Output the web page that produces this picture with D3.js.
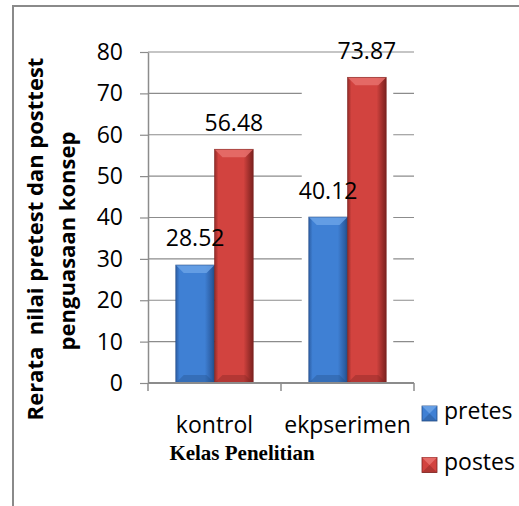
<!DOCTYPE html>
<html><head><meta charset="utf-8">
<script src="https://cdn.jsdelivr.net/npm/d3@7"></script>
<style>body{margin:0;background:#fff;} text{font-family:"Open Sans",sans-serif;fill:#000;}</style>
</head><body><svg id="c" width="519" height="506"></svg>
<script>
const categories = ["kontrol", "ekpserimen"];
const seriesNames = ["pretes", "postes"];
const pretes = [28.52, 40.12];
const postes = [56.48, 73.87];
const yTicks = [0, 10, 20, 30, 40, 50, 60, 70, 80];
const yTitle = ["Rerata  nilai pretest dan posttest", "penguasaan konsep"];
const xTitle = "Kelas Penelitian";
const seriesColors = {pretes: ["#2c5ea4", "#3f80d4", "#6aa2e6", "#234c84"], postes: ["#922a27", "#d2433f", "#e8706c", "#7c2220"]};

const svg = d3.select("#c");
const W = 519, H = 506;
const L = 148, R = 414, T = 52, B = 383;

// border (left and top)
svg.append("path").attr("d", `M13,${H} L13,6 L${W},6`).attr("fill", "none").attr("stroke", "#8a8a8a").attr("stroke-width", 2);

const x = d3.scaleBand().domain(categories).range([L, R]).padding(0);
const xs = d3.scaleBand().domain(seriesNames).range([0, x.bandwidth()]).paddingInner(0).paddingOuter(0.716);
const y = d3.scaleLinear().domain([0, 80]).range([B, T]);

const defs = svg.append("defs");
seriesNames.forEach(s => {
  const c = seriesColors[s];
  const g = defs.append("linearGradient").attr("id", "g-" + s).attr("x1", 0).attr("x2", 1).attr("y1", 0).attr("y2", 0);
  g.append("stop").attr("offset", 0).attr("stop-color", c[0]);
  g.append("stop").attr("offset", 0.1).attr("stop-color", c[1]);
  g.append("stop").attr("offset", 0.75).attr("stop-color", c[1]);
  g.append("stop").attr("offset", 0.93).attr("stop-color", c[0]);
  g.append("stop").attr("offset", 1).attr("stop-color", c[3]);
});

// gridlines
svg.append("g").selectAll("line").data(yTicks.filter(d => d > 0)).join("line")
  .attr("x1", L).attr("x2", R).attr("y1", d => y(d)).attr("y2", d => y(d))
  .attr("stroke", "#8c8c8c").attr("stroke-width", 1.2);

// y axis
const ya = svg.append("g").attr("transform", `translate(${L},0)`)
  .call(d3.axisLeft(y).tickValues(yTicks).tickSize(8).tickSizeOuter(0).tickPadding(17));
ya.select(".domain").attr("stroke", "#8c8c8c").attr("stroke-width", 1.5);
ya.selectAll(".tick line").attr("stroke", "#8c8c8c").attr("stroke-width", 1.2);
ya.selectAll("text").attr("font-size", 23).attr("font-family", "Open Sans").attr("fill", "#000");

// data rows
const rows = categories.map((c, i) => ({cat: c, i, vals: [{s: "pretes", v: pretes[i]}, {s: "postes", v: postes[i]}]}));

// halos (exp group shows white glow breaking gridlines)
svg.append("g").selectAll("rect").data(rows.filter(r => r.i === 1)).join("rect")
  .attr("x", r => x(r.cat) + xs("pretes") - 7)
  .attr("width", xs.bandwidth() * 2 + 14)
  .attr("y", r => y(d3.max(r.vals, d => d.v)) + 2)
  .attr("height", r => B - 1 - y(d3.max(r.vals, d => d.v)) - 2)
  .attr("fill", "#fff");

const bw = xs.bandwidth();
const gBars = svg.append("g");
rows.forEach(r => {
  r.vals.forEach(d => {
    const bx = x(r.cat) + xs(d.s), by = y(d.v), bh = B - y(d.v);
    const c = seriesColors[d.s];
    const g = gBars.append("g");
    g.append("rect").attr("x", bx).attr("y", by).attr("width", bw).attr("height", bh).attr("fill", `url(#g-${d.s})`);
    const b = 8;
    g.append("path").attr("d", `M${bx},${by} L${bx + bw},${by} L${bx + bw - b},${by + b} L${bx + b},${by + b} Z`)
      .attr("fill", c[2]).attr("opacity", 0.85);
    g.append("path").attr("d", `M${bx},${by + bh} L${bx + bw},${by + bh} L${bx + bw - b},${by + bh - b} L${bx + b},${by + bh - b} Z`)
      .attr("fill", c[3]).attr("opacity", 0.35);
    g.append("rect").attr("x", bx).attr("y", by).attr("width", bw).attr("height", bh)
      .attr("fill", "none").attr("stroke", c[3]).attr("stroke-width", 0.8).attr("opacity", 0.7);
    svg.append("text").attr("x", bx + bw / 2).attr("y", by - 18.5).attr("text-anchor", "middle")
      .attr("font-size", 23).text(d3.format(".2f")(d.v));
  });
});

// x axis
svg.append("line").attr("x1", L).attr("x2", R).attr("y1", B).attr("y2", B).attr("stroke", "#8c8c8c").attr("stroke-width", 2);
const edges = categories.map(c => x(c)).concat([x(categories[categories.length - 1]) + x.bandwidth()]);
svg.append("g").selectAll("line").data(edges).join("line")
  .attr("x1", d => d).attr("x2", d => d).attr("y1", B).attr("y2", B + 8)
  .attr("stroke", "#8c8c8c").attr("stroke-width", 1.5);
svg.append("g").selectAll("text").data(categories).join("text")
  .attr("x", c => x(c) + x.bandwidth() / 2).attr("y", 433).attr("text-anchor", "middle")
  .attr("font-size", 23).text(c => c);

// x title
svg.append("text").attr("x", 242).attr("y", 460).attr("text-anchor", "middle")
  .style("font-family", "'Liberation Serif',serif")
  .attr("font-weight", "bold").attr("font-size", 21).text(xTitle);

// y title
const yt = [[43, 239], [75, 241]];
yTitle.forEach((t, i) => {
  svg.append("text").attr("transform", `translate(${yt[i][0]},${yt[i][1]}) rotate(-90)`)
    .attr("text-anchor", "middle").attr("font-weight", "bold").attr("font-size", 22)
    .style("white-space", "pre").attr("xml:space", "preserve").text(t);
});

// legend
const lg = svg.append("g").selectAll("g").data(seriesNames).join("g")
  .attr("transform", (d, i) => `translate(422,${406 + i * 51.5})`);
lg.append("rect").attr("width", 15).attr("height", 15).attr("fill", d => seriesColors[d][1]).attr("stroke", d => seriesColors[d][3]).attr("stroke-width", 0.8);
lg.append("path").attr("d", "M0,0 L15,0 L7.5,7.5 Z").attr("fill", d => seriesColors[d][2]).attr("opacity", 0.9);
lg.append("path").attr("d", "M0,15 L15,15 L7.5,7.5 Z").attr("fill", d => seriesColors[d][3]).attr("opacity", 0.4);
lg.append("text").attr("x", 22).attr("y", 12.5).attr("font-size", 23).text(d => d);
</script></body></html>
